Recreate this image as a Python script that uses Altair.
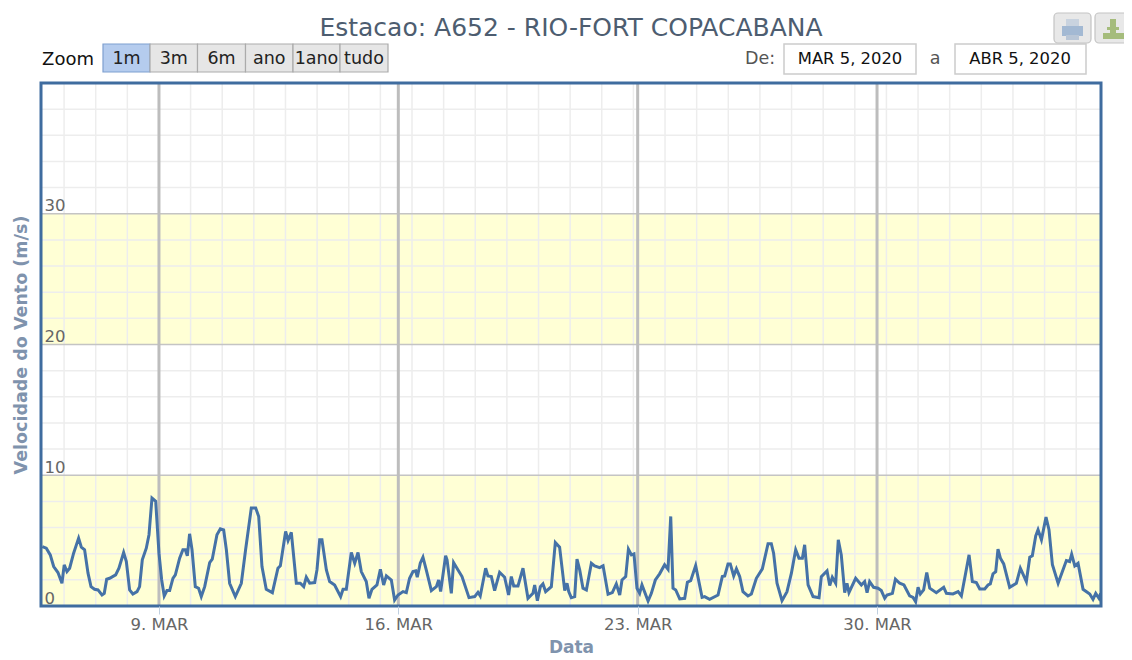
import altair as alt
import pandas as pd

# hours relative to 2020-03-09 00:00 UTC
hours = [-81.9,-79.1,-76.3,-73.9,-70.9,-68.1,-66.5,-64.6,-62.7,-59.9,-56.4,-54.5,-52.2,-49.8,-47.7,-45.2,-42.8,-40.0,-38.4,-36.7,-34.6,-30.4,-28.1,-24.8,-22.9,-20.6,-18.3,-15.4,-13.6,-11.7,-8.9,-7.0,-4.9,-2.3,0,1.9,3.7,5.6,7.5,9.8,11.5,14.5,16.8,18.5,19.9,21.5,23.2,25.5,27.8,29.7,32.1,35.6,37.4,40.7,43.1,45.4,47.3,49.6,53.6,57.8,60.8,64.8,67.9,70.0,72.3,75.3,79.6,83.5,85.2,88.9,90.6,92.9,94.1,96.4,99.2,101.6,103.4,105.8,109.3,110.9,112.8,114.4,117.5,119.8,123.3,127.5,129.2,131.5,135.0,137.4,139.7,142.0,145.5,147.4,149.5,153.0,155.4,157.7,159.6,163.1,165.4,
167.8,171.3,173.6,175.9,178.3,180.2,181.3,183.4,185.3,187.6,191.2,194.7,196.3,197.7,201.2,202.2,205.2,206.8,209.9,212.7,217.6,221.6,223.9,225.5,229.3,230.9,233.3,235.6,239.1,242.6,245.4,247.3,249.0,252.0,255.5,259.0,262.5,263.7,265.6,267.7,269.5,271.4,275.4,278.2,281.2,284.8,286.4,287.6,289.4,291.8,293.4,295.3,297.6,300.0,303.5,305.8,309.3,311.7,315.2,318.2,321.0,323.4,325.0,327.6,329.5,331.6,333.4,335.5,337.4,339.0,343.3,345.6,348.4,351.4,354.9,357.3,359.2,360.8,362.7,365.5,369.0,370.9,373.2,376.7,381.2,383.0,386.5,392.4,395.4,397.1,399.4,401.0,403.4,405.3,407.6,409.9,413.4,415.8,
419.3,423.5,427.5,429.8,431.4,433.8,437.3,440.8,443.9,446.9,449.2,451.6,453.2,455.6,459.1,463.3,464.9,468.9,470.8,472.6,475.0,476.8,478.9,481.3,482.9,484.3,489.0,493.0,495.3,497.0,498.8,501.6,504.7,507.0,509.4,511.0,514.8,516.9,519.9,522.9,526.9,529.3,531.1,532.8,534.4,536.7,538.9,541.0,545.6,550.8,552.7,557.3,560.9,563.2,568.6,570.9,573.7,576.1,579.6,581.9,583.5,585.4,587.3,588.9,590.6,592.9,597.1,601.8,604.6,608.8,611.2,613.0,615.4,617.0,619.4,622.6,624.7,627.1,631.1,636.9,639.2,640.6,642.8,645.1,648.6,653.3,655.6,657.5,659.8,661.0]
values = [4.55,4.42,3.91,3.02,2.56,1.74,3.15,2.63,2.89,4.04,5.19,4.50,4.30,2.51,1.48,1.28,1.23,0.84,0.97,2.05,2.12,2.38,2.89,4.09,3.40,1.23,0.92,1.10,1.48,3.53,4.42,5.45,8.26,8.01,4.04,1.99,0.77,1.18,1.18,2.12,2.38,3.66,4.30,4.30,3.84,5.52,4.30,1.48,1.36,0.72,1.48,3.32,3.58,5.45,5.91,5.83,4.30,1.74,0.72,1.74,4.30,7.49,7.49,6.85,3.02,1.28,1.02,2.89,3.07,5.70,5.01,5.63,4.30,1.74,1.74,1.48,2.20,1.74,1.79,2.76,5.06,5.06,2.76,1.87,1.61,0.72,1.28,1.28,4.09,3.27,4.09,2.63,1.87,0.59,1.28,1.61,2.81,1.61,2.30,1.99,0.46,
0.84,1.10,1.02,2.12,2.63,2.69,2.20,3.27,3.73,2.76,1.18,1.48,1.99,1.10,3.84,3.53,0.97,3.32,2.76,2.25,0.64,0.72,1.05,0.77,2.89,2.30,2.25,1.18,2.58,2.20,0.84,2.25,1.53,1.53,2.89,0.59,0.97,1.61,0.41,1.48,1.69,1.10,1.48,4.86,4.50,1.18,1.74,1.10,0.64,0.72,3.58,2.76,1.36,1.23,3.27,3.07,2.94,3.07,0.90,1.02,1.69,0.84,1.99,2.25,4.35,3.91,3.99,1.36,0.97,1.61,0.38,0.97,1.99,2.46,3.15,2.81,6.85,1.36,1.23,0.54,0.59,1.82,1.94,3.09,0.66,0.72,0.51,0.84,2.25,2.30,3.22,3.22,2.30,2.84,2.25,1.10,0.77,0.92,
2.12,2.84,4.76,4.76,4.04,1.74,0.41,1.10,2.51,4.30,3.66,3.66,4.68,1.61,0.72,0.64,2.25,2.69,1.56,2.20,1.74,5.06,3.91,1.02,1.74,1.02,2.12,1.61,1.87,1.02,1.87,1.43,1.36,1.18,0.59,0.84,0.97,2.05,1.74,1.61,0.77,0.66,0.33,1.43,0.92,1.23,2.56,1.36,1.02,1.43,0.97,0.92,1.10,0.77,3.91,1.87,1.79,1.30,1.30,1.61,1.69,2.46,2.63,4.35,3.66,3.22,1.43,1.74,2.89,1.87,3.73,3.84,5.37,5.83,5.06,6.80,5.83,3.15,1.74,3.48,3.40,3.96,3.07,3.27,1.28,0.92,0.51,0.97,0.59,0.97]

band_low = [0, 20]
band_high = [10, 30]
y_major = [10, 20, 30]
y_minor = [2,4,6,8,12,14,16,18,22,24,26,28,32,34,36,38]
y_ticks = [0, 10, 20, 30]
x_major_days = [9, 16, 23, 30]
x_minor_hours = [-66.6 + 22.2 * i for i in range(33)]
zoom_labels = ["1m", "3m", "6m", "ano", "1ano", "tudo"]

BASE = pd.Timestamp("2020-03-09")
def iso(h):
    return (BASE + pd.to_timedelta(h, unit="h")).strftime("%Y-%m-%dT%H:%M:%S") + "Z"

W, H = 1060, 523
OX, OY = 41, 83  # plot origin on the page picture
FONT = "DejaVu Sans"
x_scale = alt.Scale(type="utc", domain=["2020-03-05T13:12:00Z", "2020-04-05T13:12:00Z"], nice=False)
y_scale = alt.Scale(domain=[0, 40], nice=False, zero=False)
LINE = "#4572A7"

x_axis = alt.Axis(
    title="Data", values=[alt.DateTime(year=2020, month="Mar", date=d, utc=True) for d in x_major_days],
    labelExpr="utcFormat(datum.value,'%-d') + '. MAR'", grid=False, domain=False,
    tickColor="#C0D0E0", tickSize=8, tickWidth=1, labelPadding=2, labelFontSize=16.5, labelColor="#666666",
    labelFont=FONT, labelFlush=False, titleFont=FONT, titleFontSize=17, titleFontWeight="bold", titleColor="#7F93AD",
    titlePadding=7, zindex=2)
y_axis = alt.Axis(
    title="Velocidade do Vento (m/s)", values=y_ticks, grid=False, domain=False, ticks=False,
    labelAlign="left", labelBaseline="bottom", labelPadding=-3, labelOffset=0, labelFontSize=16.5,
    labelColor="#666666", labelFont=FONT, titleFont=FONT, titleFontSize=17.5, titleFontWeight="bold",
    titleColor="#7F93AD", titlePadding=11, zindex=2)

X = lambda: alt.X("t:T", scale=x_scale, axis=x_axis)
Y = lambda: alt.Y("v:Q", scale=y_scale, axis=y_axis)

bands = alt.Chart(pd.DataFrame({"v": band_low, "v2": band_high})).mark_rect(color="#FFFFD5").encode(
    x=alt.value(0), x2=alt.value(W), y=Y(), y2="v2:Q")

minor_v = alt.Chart(pd.DataFrame({"t": [iso(h) for h in x_minor_hours]})).mark_rule(
    color="#EDEDED", strokeWidth=1.5).encode(x=X(), y=alt.value(0), y2=alt.value(H))
minor_h = alt.Chart(pd.DataFrame({"v": y_minor})).mark_rule(
    color="#EDEDED", strokeWidth=1.5).encode(y=Y(), x=alt.value(0), x2=alt.value(W))
major_h = alt.Chart(pd.DataFrame({"v": y_major})).mark_rule(
    color="#C4C4C4", strokeWidth=1.5).encode(y=Y(), x=alt.value(0), x2=alt.value(W))
major_v = alt.Chart(pd.DataFrame({"t": [iso((d - 9) * 24) for d in x_major_days]})).mark_rule(
    color="#BDBDBD", strokeWidth=3).encode(x=X(), y=alt.value(0), y2=alt.value(H))
line = alt.Chart(pd.DataFrame({"t": [iso(h) for h in hours], "v": values})).mark_line(
    color=LINE, strokeWidth=3, clip=True).encode(x=X(), y=Y())

EMPTY = alt.Data(values=[{}])
def box(x0, x1, y0, y1, **mk):
    return alt.Chart(EMPTY).mark_rect(**mk).encode(
        x=alt.value(x0 - OX), x2=alt.value(x1 - OX), y=alt.value(y0 - OY), y2=alt.value(y1 - OY))
def label(txt, x, y, size=16, color="#222222", align="center"):
    return alt.Chart(EMPTY).mark_text(text=txt, font=FONT, fontSize=size, color=color, align=align, baseline="middle").encode(
        x=alt.value(x - OX), y=alt.value(y - OY))

border = box(OX, OX + W, OY, OY + H, filled=False, stroke="#3F6C9F", strokeWidth=3)

chrome = [label("Zoom", 68, 60, 18, "#111111")]
edges = [103, 150, 197.5, 245.5, 293, 340, 388]
for i, name in enumerate(zoom_labels):
    chrome.append(box(edges[i], edges[i + 1], 44, 72, fill="#B5CCEE" if i == 0 else "#E6E6E6",
                      stroke="#7F9FD0" if i == 0 else "#ABABAB", strokeWidth=1.2))
    chrome.append(label(name, (edges[i] + edges[i + 1]) / 2, 59, 17.5))
chrome += [
    label("De:", 760, 59, 17.5, "#555555"),
    box(784, 916, 44, 74, fill="#FFFFFF", stroke="#CCCCCC", strokeWidth=1.5),
    label("MAR 5, 2020", 850, 59, 16.4, "#111111"),
    label("a", 935, 59, 17.5, "#555555"),
    box(955, 1086, 44, 74, fill="#FFFFFF", stroke="#CCCCCC", strokeWidth=1.5),
    label("ABR 5, 2020", 1020, 59, 16.4, "#111111"),
    box(1054, 1091, 13, 43, fill="#E8E8E8", stroke="#C4C4C4", strokeWidth=1.2, cornerRadius=4),
    box(1066, 1079, 19, 27, fill="#C9D3DF"),
    box(1062, 1083, 26, 36, fill="#A3B9D3"),
    box(1066, 1079, 35, 40, fill="#B9C6D6"),
    box(1095, 1131, 13, 43, fill="#E8E8E8", stroke="#C4C4C4", strokeWidth=1.2, cornerRadius=4),
    box(1110, 1116, 19, 27, fill="#A5BC7C"),
    box(1103, 1124, 33, 39, fill="#A5BC7C"),
    box(1107, 1119, 27, 30, fill="#A5BC7C"),
    box(1110, 1116, 30, 33, fill="#A5BC7C"),
]

chart = alt.layer(bands, minor_v, minor_h, major_h, major_v, line, border, *chrome).properties(
    width=W, height=H,
    title=alt.TitleParams("Estacao: A652 - RIO-FORT COPACABANA", font=FONT, fontSize=25, fontWeight="normal",
                          color="#4D5D70", anchor="middle", offset=-29),
    padding={"left": 33, "top": 75, "right": 23, "bottom": 52},
    autosize=alt.AutoSizeParams(type="none"),
).configure_view(stroke=None).configure(background="#FFFFFF")

chart.save("out.html", embed_options={"renderer": "svg", "actions": False})
